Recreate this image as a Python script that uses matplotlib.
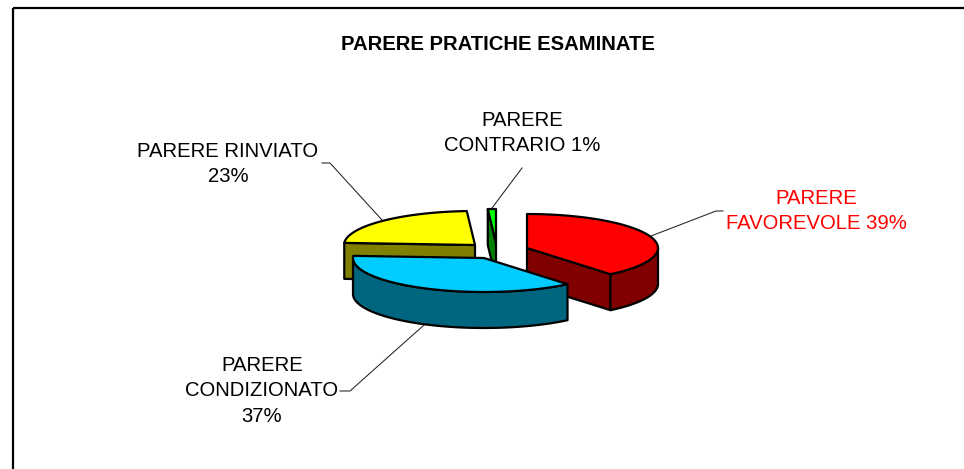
import numpy as np
import matplotlib
matplotlib.use("Agg")
import matplotlib.pyplot as plt
from matplotlib.patches import Polygon

plt.rcParams['font.family'] = ['Liberation Sans', 'DejaVu Sans']

# ---- data ----
title = "PARERE PRATICHE ESAMINATE"
categories = ["PARERE\nFAVOREVOLE", "PARERE\nCONDIZIONATO", "PARERE RINVIATO", "PARERE\nCONTRARIO"]
values = [39, 37, 23, 1]
label_formats = ["{c} {v}%", "{c}\n{v}%", "{c}\n{v}%", "{c} {v}%"]

# ---- style ----
top_colors = ["#FF0000", "#00CCFF", "#FFFF00", "#00FF00"]
side_colors = ["#800000", "#006680", "#808000", "#008000"]
text_colors = ["#FF0000", "#000000", "#000000", "#000000"]
centers = [(527, 248), (484, 258), (475, 245), (496, 243)]
label_pos = [(816.5, 211), (262, 391), (228, 164), (522, 133)]
leaders = [[(651, 236), (716, 211), (723, 211)],
           [(424, 325), (350, 391), (340, 391)],
           [(382, 220), (330, 163), (322, 163)],
           [(492, 208), (522, 168)]]
RX, RY, DEPTH = 131, 34, 36
draw_order = [2, 3, 0, 1]
LW = 1.6

fig = plt.figure(figsize=(9.64, 4.69), dpi=100, facecolor="white")
ax = fig.add_axes([0, 0, 1, 1])
ax.set_xlim(0, 964)
ax.set_ylim(469, 0)
ax.axis("off")

# frame: only top and left lines
ax.plot([13, 964], [8, 8], color="black", lw=1.6, solid_capstyle="butt")
ax.plot([13, 13], [8, 469], color="black", lw=1.6, solid_capstyle="butt")


def pt(c, a):
    return (c[0] + RX * np.sin(a), c[1] - RY * np.cos(a))


def poly(pts, fc, z):
    ax.add_patch(Polygon(pts, closed=True, fc=fc, ec="black", lw=LW, joinstyle="round", zorder=z))


fracs = np.array(values) / sum(values)
ends = np.cumsum(fracs) * 2 * np.pi
starts = ends - fracs * 2 * np.pi

for order, i in enumerate(draw_order):
    base = 2 + order
    c, a0, a1 = centers[i], starts[i], ends[i]
    p0, p1 = pt(c, a0), pt(c, a1)
    # radial cut faces that look towards the viewer
    for a, p, visible in ((a0, p0, np.sin(a0) < -1e-6), (a1, p1, np.sin(a1) > 1e-6)):
        if visible:
            poly([c, p, (p[0], p[1] + DEPTH), (c[0], c[1] + DEPTH)], side_colors[i], base)
    # outer wall
    lo, hi = max(a0, np.pi / 2), min(a1, 3 * np.pi / 2)
    if hi > lo:
        t = np.linspace(lo, hi, 80)
        up = [pt(c, a) for a in t]
        down = [(x, y + DEPTH) for x, y in up[::-1]]
        poly(up + down, side_colors[i], base + 0.1)
    # top surface
    t = np.linspace(a0, a1, 120)
    poly([c] + [pt(c, a) for a in t], top_colors[i], base + 0.2)

for pts in leaders:
    xs, ys = zip(*pts)
    ax.plot(xs, ys, color="#222222", lw=0.75, zorder=1)

for c, v, fmt, col, pos in zip(categories, values, label_formats, text_colors, label_pos):
    ax.text(pos[0], pos[1], fmt.format(c=c, v=v), color=col, fontsize=14.6,
            ha="center", va="center", linespacing=1.45, multialignment="center", zorder=20)

ax.text(498, 44, title, fontsize=14.6, fontweight="bold", ha="center", va="center", color="black")

fig.savefig("out.png", dpi=100, facecolor="white")
